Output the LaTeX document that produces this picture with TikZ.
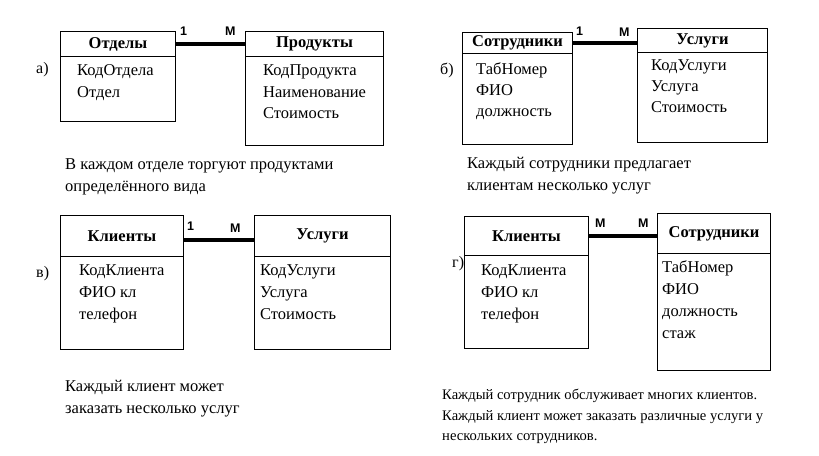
\documentclass[tikz,border=0pt]{standalone}
\usepackage{fontspec}
\setmainfont{Liberation Serif}
\newfontfamily\lblfont{Liberation Sans}
\begin{document}
\begin{tikzpicture}[x=1pt,y=-1pt,
  ent/.style={draw, line width=1.3pt, anchor=north west, inner sep=0pt},
  hdr/.style={draw, line width=1pt, anchor=north west, inner sep=0pt, font=\fontsize{16.5}{19}\selectfont\bfseries},
  attr/.style={anchor=base west, inner sep=0pt, font=\fontsize{16.5}{19}\selectfont},
  capt/.style={anchor=base west, inner sep=0pt, font=\fontsize{16.5}{19}\selectfont},
  captsm/.style={anchor=base west, inner sep=0pt, font=\fontsize{14.6}{17}\selectfont},
  tag/.style={anchor=base west, inner sep=0pt, font=\fontsize{16}{18}\selectfont},
  mult/.style={anchor=base west, inner sep=0pt, font=\lblfont\bfseries\fontsize{12.5}{14}\selectfont},
  rel/.style={line width=4pt}]
\useasboundingbox[fill=white] (0,0) rectangle (819,455);

% ---------- а) ----------
\node[tag] (ta) at (36,73) {а)};
\node[ent, minimum width=115pt, minimum height=90pt] (otd) at (60,31) {};
\node[hdr, minimum width=115pt, minimum height=25pt] (otdh) at (60,31) {Отделы};
\node[attr] (otd1) at (77,75) {КодОтдела};
\node[attr] (otd2) at (77,97) {Отдел};
\node[ent, minimum width=138pt, minimum height=114pt] (prd) at (245,31) {};
\node[hdr, minimum width=138pt, minimum height=25pt] (prdh) at (245,31) {Продукты};
\node[attr] (prd1) at (263,75) {КодПродукта};
\node[attr] (prd2) at (263,97) {Наименование};
\node[attr] (prd3) at (263,118) {Стоимость};
\draw[rel] (otdh.east) -- (otdh.east -| prdh.west);
\node[mult] (ma1) at (180,35) {1};
\node[mult] (ma2) at (225,35) {М};
\node[capt] (ca1) at (65,169) {В каждом отделе торгуют продуктами};
\node[capt] (ca2) at (65,191) {определённого вида};

% ---------- б) ----------
\node[tag] (tb) at (440,74) {б)};
\node[ent, minimum width=110pt, minimum height=112pt] (sot) at (462,32) {};
\node[hdr, minimum width=110pt, minimum height=21pt] (soth) at (462,32) {Сотрудники};
\node[attr] (sot1) at (476,74) {ТабНомер};
\node[attr] (sot2) at (476,95) {ФИО};
\node[attr] (sot3) at (476,116) {должность};
\node[ent, minimum width=130pt, minimum height=114pt] (usl) at (637,28) {};
\node[hdr, minimum width=130pt, minimum height=24pt] (uslh) at (637,28) {Услуги};
\node[attr] (usl1) at (651,70) {КодУслуги};
\node[attr] (usl2) at (651,91) {Услуга};
\node[attr] (usl3) at (651,112) {Стоимость};
\draw[rel] (soth.east) -- (soth.east -| uslh.west);
\node[mult] (mb1) at (576,35) {1};
\node[mult] (mb2) at (619,36) {М};
\node[capt] (cb1) at (467,168) {Каждый сотрудники предлагает};
\node[capt] (cb2) at (467,190) {клиентам несколько услуг};

% ---------- в) ----------
\node[tag] (tv) at (36,277) {в)};
\node[ent, minimum width=123pt, minimum height=134pt] (kli) at (60,215) {};
\node[hdr, minimum width=123pt, minimum height=41pt] (klih) at (60,215) {Клиенты};
\node[attr] (kli1) at (79,275) {КодКлиента};
\node[attr] (kli2) at (79,297) {ФИО кл};
\node[attr] (kli3) at (79,319) {телефон};
\node[ent, minimum width=136pt, minimum height=134pt] (usv) at (254,215) {};
\node[hdr, minimum width=136pt, minimum height=41pt] (usvh) at (254,215) {Услуги};
\node[attr] (usv1) at (260,275) {КодУслуги};
\node[attr] (usv2) at (260,297) {Услуга};
\node[attr] (usv3) at (260,319) {Стоимость};
\draw[rel] ([yshift=-3.5pt]klih.east) -- ([yshift=-3.5pt]klih.east -| usvh.west);
\node[mult] (mv1) at (187,230) {1};
\node[mult] (mv2) at (230,232) {М};
\node[capt] (cv1) at (65,391) {Каждый клиент может};
\node[capt] (cv2) at (65,413) {заказать несколько услуг};

% ---------- г) ----------
\node[tag] (tg) at (452,267) {г)};
\node[ent, minimum width=124pt, minimum height=132pt] (klg) at (464,216) {};
\node[hdr, minimum width=124pt, minimum height=39pt] (klgh) at (464,216) {Клиенты};
\node[attr] (klg1) at (481,275) {КодКлиента};
\node[attr] (klg2) at (481,297) {ФИО кл};
\node[attr] (klg3) at (481,319) {телефон};
\node[ent, minimum width=113pt, minimum height=157pt] (sog) at (657,213) {};
\node[hdr, minimum width=113pt, minimum height=40pt] (sogh) at (657,213) {Сотрудники};
\node[attr] (sog1) at (662,272) {ТабНомер};
\node[attr] (sog2) at (662,294) {ФИО};
\node[attr] (sog3) at (662,316) {должность};
\node[attr] (sog4) at (662,338) {стаж};
\draw[rel] (klgh.east) -- (klgh.east -| sogh.west);
\node[mult] (mg1) at (595,227) {М};
\node[mult] (mg2) at (638,227) {М};
\node[captsm] (cg1) at (442,399) {Каждый сотрудник обслуживает многих клиентов.};
\node[captsm] (cg2) at (442,420) {Каждый клиент может заказать различные услуги у};
\node[captsm] (cg3) at (442,440) {нескольких сотрудников.};
\end{tikzpicture}
\end{document}
